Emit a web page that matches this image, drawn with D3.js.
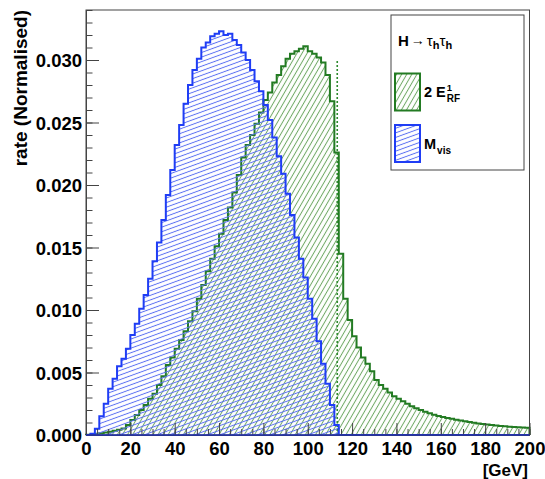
<!DOCTYPE html>
<html>
<head>
<meta charset="utf-8">
<script src="https://cdn.jsdelivr.net/npm/d3@7"></script>
<style>
  body { margin: 0; background: #fff; }
  svg { display: block; }
  text { font-family: "Liberation Sans", Arial, Helvetica, sans-serif; font-weight: bold; fill: #000; }
</style>
</head>
<body>
<svg id="chart" width="545" height="479"></svg>
<script>
// Histogram binning: 100 bins of 2 GeV from 0 to 200 GeV
const binLow = 0;
const binHigh = 200;
const binWidth = 2;

// 2 E_RF^1 distribution (normalised rate per bin)
const erfValues = [
  0.00002, 0.00005, 0.0001, 0.00015, 0.0002, 0.00027, 0.00035, 0.00043, 0.00053, 0.0008,
  0.0012, 0.0016, 0.0020, 0.0024, 0.0029, 0.0033, 0.0040, 0.0047, 0.0056, 0.0062,
  0.0069, 0.0076, 0.0083, 0.0091, 0.0099, 0.0109, 0.0120, 0.0131, 0.0141, 0.0151,
  0.0161, 0.0172, 0.0182, 0.0194, 0.0208, 0.0222, 0.0232, 0.0240, 0.0249, 0.0258,
  0.0268, 0.0274, 0.0282, 0.0288, 0.0295, 0.0301, 0.0305, 0.0307, 0.0309, 0.0311,
  0.0307, 0.0305, 0.0302, 0.0298, 0.0288, 0.0267, 0.0226, 0.0145, 0.0109, 0.0092,
  0.0079, 0.0070, 0.0062, 0.0057, 0.0051, 0.0044, 0.0040, 0.0037, 0.0034, 0.0031,
  0.0029, 0.0027, 0.0025, 0.0023, 0.00215, 0.0020, 0.00187, 0.00175, 0.00163, 0.00153,
  0.00145, 0.00137, 0.0013, 0.00123, 0.00116, 0.0011, 0.00104, 0.00098, 0.00093, 0.00088,
  0.00084, 0.0008, 0.00076, 0.00073, 0.0007, 0.00067, 0.00064, 0.00062, 0.0006, 0.00058
];

// Visible mass M_vis distribution (normalised rate per bin)
const mvisValues = [
  0, 0.0001, 0.0005, 0.0015, 0.0025, 0.0037, 0.0045, 0.0055, 0.0061, 0.0069,
  0.0080, 0.0089, 0.0101, 0.0112, 0.0125, 0.0139, 0.0154, 0.0172, 0.0192, 0.0212,
  0.0232, 0.0248, 0.0265, 0.0280, 0.0292, 0.0301, 0.0310, 0.0314, 0.0319, 0.0321,
  0.0323, 0.0320, 0.0321, 0.0316, 0.0312, 0.0306, 0.0300, 0.0292, 0.0283, 0.0275,
  0.0264, 0.0252, 0.0238, 0.0223, 0.0209, 0.0193, 0.0176, 0.0158, 0.0141, 0.0126,
  0.0109, 0.0093, 0.0075, 0.0057, 0.0041, 0.0024, 0.0008, 0, 0, 0,
  0, 0, 0, 0, 0, 0, 0, 0, 0, 0,
  0, 0, 0, 0, 0, 0, 0, 0, 0, 0,
  0, 0, 0, 0, 0, 0, 0, 0, 0, 0,
  0, 0, 0, 0, 0, 0, 0, 0, 0, 0
];

// Axis ticks
const xMajorTicks = [0, 20, 40, 60, 80, 100, 120, 140, 160, 180, 200];
const xMinorStep = 5;
const yMajorTicks = [0, 0.005, 0.010, 0.015, 0.020, 0.025, 0.030];
const yMinorStep = 0.001;
const yMax = 0.034;

// Kinematic endpoint marker (dotted line)
const endpointX = 113.3;
const endpointTop = 0.030;

// Text
const yTitle = "rate (Normalised)";
const xTitle = "[GeV]";

const svg = d3.select("#chart");
const margin = { left: 86, right: 545 - 529.5, top: 10, bottom: 479 - 435 };
const W = 545, H = 479;

const x = d3.scaleLinear().domain([binLow, binHigh]).range([margin.left, W - margin.right]);
const y = d3.scaleLinear().domain([0, yMax]).range([H - margin.bottom, margin.top]);

const defs = svg.append("defs");
function hatch(id, angle, spacing, color, width) {
  const p = defs.append("pattern")
    .attr("id", id)
    .attr("patternUnits", "userSpaceOnUse")
    .attr("width", 20)
    .attr("height", spacing)
    .attr("patternTransform", `rotate(${-angle})`);
  p.append("line")
    .attr("x1", -1).attr("x2", 21)
    .attr("y1", spacing / 2).attr("y2", spacing / 2)
    .attr("stroke", color)
    .attr("stroke-width", width);
}
hatch("hatchGreen", 60, 4.4, "#6fa865", 1.0);
hatch("hatchBlue", 20, 4.3, "#5b70f2", 1.0);

function binPoints(values) {
  const pts = [{ x: binLow, v: 0 }];
  values.forEach((v, i) => pts.push({ x: binLow + i * binWidth, v }));
  pts.push({ x: binHigh, v: values[values.length - 1] });
  pts.push({ x: binHigh, v: 0 });
  return pts;
}

const area = d3.area()
  .x(d => x(d.x)).y0(y(0)).y1(d => y(d.v))
  .curve(d3.curveStepAfter);
const line = d3.line()
  .x(d => x(d.x)).y(d => y(d.v))
  .curve(d3.curveStepAfter);

const series = [
  { values: erfValues, fill: "url(#hatchGreen)", stroke: "#237b23" },
  { values: mvisValues, fill: "url(#hatchBlue)", stroke: "#1f3df5" }
];

const gHist = svg.append("g");
series.forEach(s => {
  const pts = binPoints(s.values);
  gHist.append("path").attr("d", area(pts)).attr("fill", s.fill).attr("stroke", "none");
  gHist.append("path").attr("d", line(pts)).attr("fill", "none")
    .attr("stroke", s.stroke).attr("stroke-width", 2).attr("stroke-linejoin", "miter");
  if (s === series[0]) {
    // dotted endpoint line belongs with the E_RF histogram
    gHist.append("line")
      .attr("x1", x(endpointX)).attr("x2", x(endpointX))
      .attr("y1", y(0)).attr("y2", y(endpointTop))
      .attr("stroke", "#2e8a2e").attr("stroke-width", 1.6)
      .attr("stroke-dasharray", "2,2");
  }
});

// Frame
svg.append("rect")
  .attr("x", x(binLow)).attr("y", y(yMax))
  .attr("width", x(binHigh) - x(binLow)).attr("height", y(0) - y(yMax))
  .attr("fill", "none").attr("stroke", "#444").attr("stroke-width", 1);

const axisColor = "#444";
// Y axis: minor then major ticks pointing inwards
const yMinor = d3.range(0, yMax + 1e-9, yMinorStep);
svg.append("g").attr("transform", `translate(${x(binLow)},0)`)
  .call(d3.axisLeft(y).tickValues(yMinor).tickSizeInner(-6.5).tickSizeOuter(0).tickFormat(""))
  .call(g => g.select(".domain").remove())
  .call(g => g.selectAll("line").attr("stroke", axisColor));
svg.append("g").attr("transform", `translate(${x(binLow)},0)`)
  .call(d3.axisLeft(y).tickValues(yMajorTicks).tickSizeInner(-13).tickSizeOuter(0)
    .tickPadding(4).tickFormat(d3.format(".3f")))
  .call(g => g.select(".domain").attr("stroke", axisColor))
  .call(g => g.selectAll("line").attr("stroke", axisColor))
  .call(g => g.selectAll("text").attr("font-size", 18.5).attr("font-family", null).attr("dy", "0.36em"));

// X axis
const xMinor = d3.range(binLow, binHigh + 1e-9, xMinorStep);
svg.append("g").attr("transform", `translate(0,${y(0)})`)
  .call(d3.axisBottom(x).tickValues(xMinor).tickSizeInner(-6).tickSizeOuter(0).tickFormat(""))
  .call(g => g.select(".domain").remove())
  .call(g => g.selectAll("line").attr("stroke", axisColor));
svg.append("g").attr("transform", `translate(0,${y(0)})`)
  .call(d3.axisBottom(x).tickValues(xMajorTicks).tickSizeInner(-12).tickSizeOuter(0)
    .tickPadding(7).tickFormat(d3.format("d")))
  .call(g => g.select(".domain").attr("stroke", axisColor))
  .call(g => g.selectAll("line").attr("stroke", axisColor))
  .call(g => g.selectAll("text").attr("font-size", 18.5).attr("font-family", null));

// Blue baseline of the M_vis histogram drawn over the axis line
svg.append("line")
  .attr("x1", x(binLow)).attr("x2", x(binHigh)).attr("y1", y(0)).attr("y2", y(0))
  .attr("stroke", "#1f2fb0").attr("stroke-width", 1.5);

// Axis titles
svg.append("text")
  .attr("transform", `translate(27,${y(yMax)}) rotate(-90)`)
  .attr("text-anchor", "end")
  .attr("font-size", 19)
  .text(yTitle);
svg.append("text")
  .attr("x", 528).attr("y", 475.5)
  .attr("text-anchor", "end")
  .attr("font-size", 17)
  .text(xTitle);

// Legend
const leg = svg.append("g");
leg.append("rect")
  .attr("x", 391).attr("y", 15).attr("width", 133).attr("height", 155)
  .attr("fill", "#fff").attr("stroke", "#444").attr("stroke-width", 1);

const title = leg.append("text").attr("x", 398).attr("y", 46).attr("font-size", 15);
title.append("tspan").text("H");
title.append("tspan").attr("font-size", 14).attr("dx", 2).attr("dy", -1).text("\u2192");
title.append("tspan").attr("font-weight", "normal").attr("dx", 2).attr("dy", 1).text("\u03c4");
title.append("tspan").attr("font-size", 11).attr("dy", 3).text("h");
title.append("tspan").attr("font-weight", "normal").attr("dy", -3).text("\u03c4");
title.append("tspan").attr("font-size", 11).attr("dy", 3).text("h");

const entries = [
  { main: "2 E", sup: "1", sub: "RF", fill: "url(#hatchGreen)", stroke: "#237b23", top: 73.5 },
  { main: "M", sup: "", sub: "vis", fill: "url(#hatchBlue)", stroke: "#1f3df5", top: 125 }
];
entries.forEach(e => {
  leg.append("rect")
    .attr("x", 395).attr("y", e.top).attr("width", 25).attr("height", 37)
    .attr("fill", e.fill).attr("stroke", e.stroke).attr("stroke-width", 2);
  const base = e.top + 23.5;
  const t = leg.append("text").attr("x", 424).attr("y", base).attr("font-size", 14.5).text(e.main);
  const end = 424 + t.node().getComputedTextLength() + 1;
  if (e.sup) leg.append("text").attr("x", end).attr("y", base - 6).attr("font-size", 9.5).text(e.sup);
  leg.append("text").attr("x", end).attr("y", base + 5).attr("font-size", 10).text(e.sub);
});
</script>
</body>
</html>
